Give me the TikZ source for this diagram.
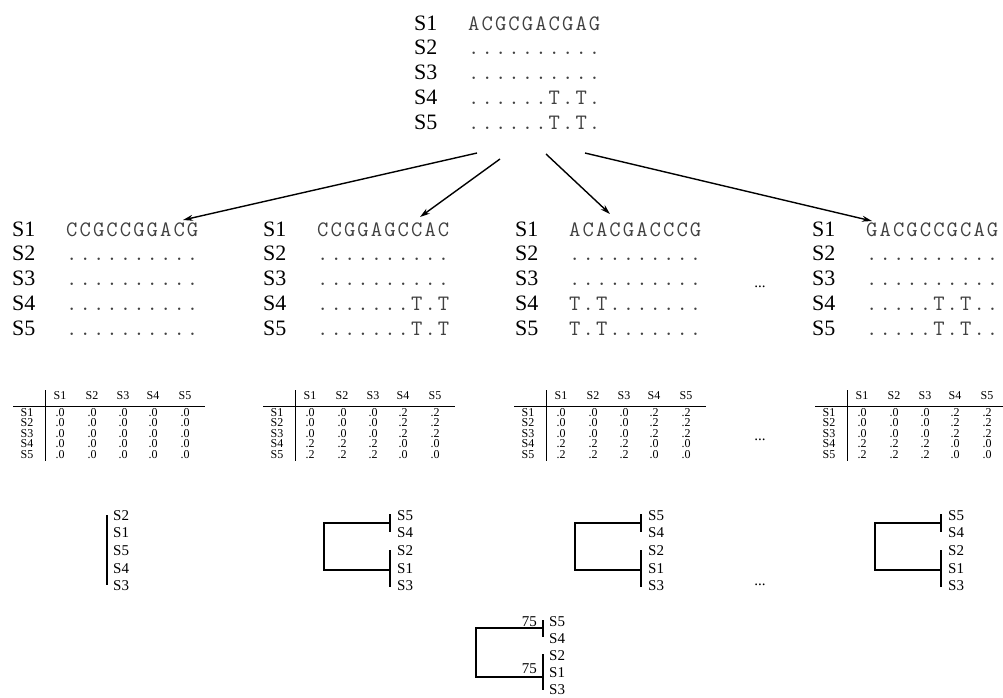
\documentclass[tikz,border=0pt]{standalone}
\usepackage{fontspec}
\setmainfont{Liberation Serif}
\newfontfamily\seqfont{Latin Modern Mono}[LetterSpace=9.5]
\usetikzlibrary{arrows.meta}
\begin{document}
\begin{tikzpicture}[x=1pt,y=-1pt,
  lab/.style={font=\fontsize{22}{22}\selectfont, anchor=base west, inner sep=0},
  seq/.style={font=\seqfont\fontsize{22}{22}\selectfont, text=black!75, anchor=base west, inner sep=0},
  tab/.style={font=\fontsize{12}{12}\selectfont, anchor=base, inner sep=0},
  tl/.style={font=\fontsize{15}{15}\selectfont, anchor=base west, inner sep=0},
  ell/.style={font=\fontsize{15}{15}\selectfont, anchor=base, inner sep=0},
  br/.style={line width=1.1pt},
  rule/.style={line width=0.9pt},
  arr/.style={line width=1.4pt, -{Stealth[length=10pt,width=6pt]}},
]
\useasboundingbox (0,0) rectangle (1003,697);

\newcommand{\myrow}[5]{% name, label x, baseline y, row number, sequence
  \node[lab] (#1l#4) at (#2,#3) {S#4};
  \node[seq] (#1q#4) at ({#2+54},#3) {#5};}
\newcommand{\myblock}[8]{% name, label x, top baseline, five sequences
  \myrow{#1}{#2}{#3}{1}{#4}
  \myrow{#1}{#2}{#3+24.9}{2}{#5}
  \myrow{#1}{#2}{#3+49.8}{3}{#6}
  \myrow{#1}{#2}{#3+74.7}{4}{#7}
  \myrow{#1}{#2}{#3+99.6}{5}{#8}}

% ---------- top alignment ----------
\myblock{t}{414}{30}{ACGCGACGAG}{..........}{..........}{......T.T.}{......T.T.}

% ---------- lower alignments ----------
\myblock{a}{12}{236}{CCGCCGGACG}{..........}{..........}{..........}{..........}
\myblock{b}{263}{236}{CCGGAGCCAC}{..........}{..........}{.......T.T}{.......T.T}
\myblock{c}{515}{236}{ACACGACCCG}{..........}{..........}{T.T.......}{T.T.......}
\myblock{d}{812}{236}{GACGCCGCAG}{..........}{..........}{.....T.T..}{.....T.T..}
\node[ell] (dots1) at (760,287) {...};

% ---------- arrows ----------
\coordinate (a1s) at (477,153); \coordinate (a1e) at (183,220);
\coordinate (a2s) at (500,159); \coordinate (a2e) at (420,217);
\coordinate (a3s) at (546,154); \coordinate (a3e) at (610,214);
\coordinate (a4s) at (585,153); \coordinate (a4e) at (872,221);
\draw[arr] (a1s) -- (a1e);
\draw[arr] (a2s) -- (a2e);
\draw[arr] (a3s) -- (a3e);
\draw[arr] (a4s) -- (a4e);

% ---------- distance tables ----------
\newcommand{\mytable}[7]{%
  \begin{scope}[xshift=#2pt]
    \draw[rule] (45,390) -- (45,461);
    \draw[rule] (13,406) -- (205,406);
    \foreach \c/\cx in {1/60,2/92,3/123,4/153,5/185}
      \node[tab] (t#1h\c) at (\cx,399) {S\c};
    \foreach \r/\row in {1/#3,2/#4,3/#5,4/#6,5/#7}{
      \node[tab] (t#1r\r) at (27,{416+10.5*(\r-1)}) {S\r};
      \foreach \v/\cx [count=\c] in \row {
        \node[tab] (t#1v\r\c) at (\cx,{416+10.5*(\r-1)}) {\v};
      }
    }
  \end{scope}}
\mytable{1}{0}{{.0/60,.0/92,.0/123,.0/153,.0/185}}{{.0/60,.0/92,.0/123,.0/153,.0/185}}{{.0/60,.0/92,.0/123,.0/153,.0/185}}{{.0/60,.0/92,.0/123,.0/153,.0/185}}{{.0/60,.0/92,.0/123,.0/153,.0/185}}
\mytable{2}{250}{{.0/60,.0/92,.0/123,.2/153,.2/185}}{{.0/60,.0/92,.0/123,.2/153,.2/185}}{{.0/60,.0/92,.0/123,.2/153,.2/185}}{{.2/60,.2/92,.2/123,.0/153,.0/185}}{{.2/60,.2/92,.2/123,.0/153,.0/185}}
\mytable{3}{501}{{.0/60,.0/92,.0/123,.2/153,.2/185}}{{.0/60,.0/92,.0/123,.2/153,.2/185}}{{.0/60,.0/92,.0/123,.2/153,.2/185}}{{.2/60,.2/92,.2/123,.0/153,.0/185}}{{.2/60,.2/92,.2/123,.0/153,.0/185}}
\mytable{4}{802}{{.0/60,.0/92,.0/123,.2/153,.2/185}}{{.0/60,.0/92,.0/123,.2/153,.2/185}}{{.0/60,.0/92,.0/123,.2/153,.2/185}}{{.2/60,.2/92,.2/123,.0/153,.0/185}}{{.2/60,.2/92,.2/123,.0/153,.0/185}}
\node[ell] (dots2) at (760,440) {...};

% ---------- trees ----------
\draw[br] (107,515) -- (107,585);
\foreach \lab [count=\k] in {S2,S1,S5,S4,S3}
  \node[tl] (tr1n\k) at (113,{520+17.7*(\k-1)}) {\lab};

\foreach \t/\sh in {2/0,3/251,4/551}{
  \begin{scope}[xshift=\sh pt]
    \draw[br] (390,514) -- (390,532);
    \draw[br] (390,550) -- (390,587);
    \draw[br] (390,523) -- (324,523) -- (324,570) -- (390,570);
    \foreach \lab [count=\k] in {S5,S4,S2,S1,S3}
      \node[tl] (tr\t n\k) at (397,{520+17.7*(\k-1)}) {\lab};
  \end{scope}
}
\node[ell] (dots3) at (760,585) {...};

% ---------- consensus tree ----------
\draw[br] (543,620) -- (543,637);
\draw[br] (543,654) -- (543,690);
\draw[br] (543,628) -- (476,628) -- (476,677) -- (543,677);
\foreach \lab [count=\k] in {S5,S4,S2,S1,S3}
  \node[tl] (cn\k) at (549,{626+17*(\k-1)}) {\lab};
\node[font=\fontsize{15}{15}\selectfont, anchor=base east, inner sep=0] (bs1) at (537,626) {75};
\node[font=\fontsize{15}{15}\selectfont, anchor=base east, inner sep=0] (bs2) at (537,673) {75};
\end{tikzpicture}
\end{document}
